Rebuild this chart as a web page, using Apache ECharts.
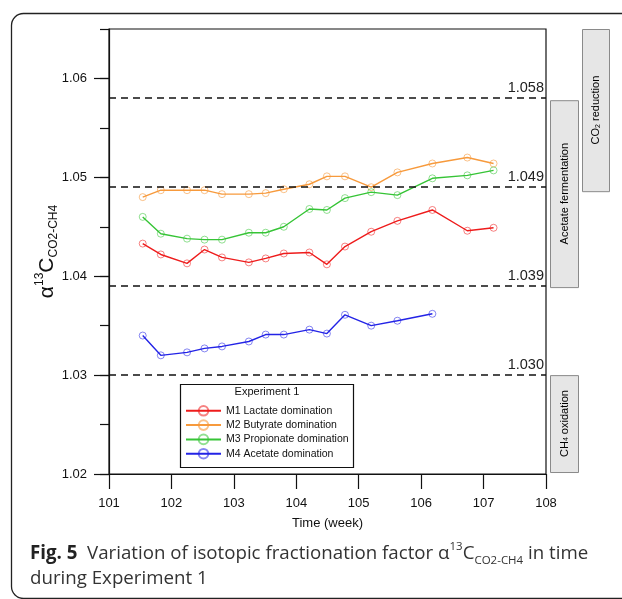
<!DOCTYPE html>
<html>
<head>
<meta charset="utf-8">
<title>Fig. 5</title>
<script src="https://cdn.jsdelivr.net/npm/echarts@6/dist/echarts.min.js"></script>
<style>
  html, body { margin: 0; padding: 0; background: #fff; }
  #main { width: 622px; height: 599px; }
</style>
</head>
<body>
<div id="main"></div>
<script type="text/javascript">
// sampling times (week)
var weeks = [101.54, 101.83, 102.25, 102.53, 102.81, 103.24, 103.51, 103.80,
             104.21, 104.49, 104.78, 105.20, 105.62, 106.18, 106.74, 107.16];

// alpha 13C CO2-CH4
var m1Lactate = [1.0433, 1.0422, 1.0413, 1.0427, 1.0419, 1.0414, 1.0418, 1.0423,
                 1.0424, 1.0412, 1.0430, 1.0445, 1.0456, 1.0467, 1.0446, 1.0449];
var m2Butyrate = [1.0480, 1.0487, 1.0487, 1.0487, 1.0483, 1.0483, 1.0484, 1.0488,
                  1.0493, 1.0501, 1.0501, 1.0490, 1.0505, 1.0514, 1.0520, 1.0514];
var m3Propionate = [1.0460, 1.0443, 1.0438, 1.0437, 1.0437, 1.0444, 1.0444, 1.0450,
                    1.0468, 1.0467, 1.0479, 1.0485, 1.0482, 1.0499, 1.0502, 1.0507];
var m4Acetate = [1.0340, 1.0320, 1.0323, 1.0327, 1.0329, 1.0334, 1.0341, 1.0341,
                 1.0346, 1.0342, 1.0361, 1.0350, 1.0355, 1.0362];

var seriesNames = ['M1 Lactate domination', 'M2 Butyrate domination',
                   'M3 Propionate domination', 'M4 Acetate domination'];

// dashed reference levels
var thresholds = [1.058, 1.049, 1.039, 1.030];

// pathway ranges drawn as grey boxes on the right
var zoneNames = ['CO2 reduction', 'Acetate fermentation', 'CH4 oxidation'];
var zoneLow = [1.0486, 1.0389, 1.0202];
var zoneHigh = [1.0650, 1.0578, 1.0300];

var yTicks = [1.02, 1.03, 1.04, 1.05, 1.06];
var xMin = 101, xMax = 108;

var lineColors = ['#ee1c1c', '#f79a3c', '#36c436', '#2323e6'];
var markColors = ['rgba(238,28,28,0.55)', 'rgba(247,154,60,0.6)', 'rgba(54,196,54,0.55)', 'rgba(35,35,230,0.55)'];
var FONT = '"Liberation Sans", Arial, sans-serif';

function pairs(vals) {
    var out = [];
    for (var i = 0; i < vals.length; i++) out.push([weeks[i], vals[i]]);
    return out;
}

var myChart = echarts.init(document.getElementById('main'));
var allData = [m1Lactate, m2Butyrate, m3Propionate, m4Acetate];

var series = [];
for (var k = 0; k < allData.length; k++) {
    series.push({
        name: seriesNames[k],
        type: 'line',
        data: pairs(allData[k]),
        symbol: 'circle',
        symbolSize: 7,
        lineStyle: { color: lineColors[k], width: 1.4 },
        itemStyle: { color: 'rgba(255,255,255,0)', borderColor: markColors[k], borderWidth: 1 },
        z: 3
    });
}
series[0].markLine = {
    silent: true,
    symbol: 'none',
    precision: 3,
    lineStyle: { color: '#111', type: [7, 5], width: 1.5 },
    label: {
        position: 'insideEndTop',
        distance: [2, 3],
        color: '#222',
        fontFamily: FONT,
        fontSize: 14.5,
        formatter: function (p) { return Number(p.value).toFixed(3); }
    },
    data: thresholds.map(function (v) { return { yAxis: v }; })
};

var option = {
    animation: false,
    backgroundColor: '#fff',
    grid: {
        left: 109, right: 76, top: 29, bottom: 125,
        show: true, borderColor: '#111', borderWidth: 1.2
    },
    legend: {
        orient: 'vertical',
        left: 185, top: 405,
        padding: 0,
        itemWidth: 35, itemHeight: 12, itemGap: 2.7,
        textStyle: { fontFamily: FONT, fontSize: 10.5, color: '#111' },
        data: seriesNames
    },
    xAxis: {
        type: 'value',
        min: xMin, max: xMax, interval: 1,
        splitLine: { show: false },
        axisLine: { lineStyle: { color: '#111', width: 1.2 } },
        axisTick: { length: 15, lineStyle: { color: '#111', width: 1.2 } },
        axisLabel: { margin: 23, color: '#111', fontFamily: FONT, fontSize: 13 },
        name: 'Time (week)',
        nameLocation: 'middle',
        nameGap: 43,
        nameMoveOverlap: false,
        nameTextStyle: { color: '#111', fontFamily: FONT, fontSize: 13 }
    },
    yAxis: [{
        type: 'value',
        min: 1.02, max: 1.065, interval: 0.005,
        splitLine: { show: false },
        axisLine: { lineStyle: { color: '#111', width: 1.2 } },
        axisTick: { length: 9, lineStyle: { color: '#111', width: 1.2 } },
        axisLabel: {
            margin: 22, color: '#111', fontFamily: FONT, fontSize: 13,
            formatter: function (v) {
                return Math.round(v * 1000) % 10 === 0 ? v.toFixed(2) : '';
            }
        },
        name: '{a|α}{sup|13}{a|C}{sub|CO2-CH4}',
        nameLocation: 'middle',
        nameGap: 49,
        nameMoveOverlap: false,
        nameTextStyle: {
            color: '#111',
            rich: {
                a: { fontFamily: FONT, fontSize: 21, color: '#111', lineHeight: 26 },
                sup: { fontFamily: FONT, fontSize: 12, color: '#111', verticalAlign: 'top', lineHeight: 26 },
                sub: { fontFamily: FONT, fontSize: 12, color: '#111', verticalAlign: 'bottom', lineHeight: 26 }
            }
        }
    }, {
        type: 'value',
        position: 'left',
        min: 1.02, max: 1.065, interval: 0.005,
        splitLine: { show: false },
        axisLine: { show: false },
        axisLabel: { show: false },
        axisTick: { length: 15, customValues: yTicks, lineStyle: { color: '#111', width: 1.2 } }
    }],
    series: series
};
myChart.setOption(option);

// grey boxes, placed through the y scale
var graphics = [];
var boxCols = [[582, 27], [550, 28], [550, 28]];
var zoneRich = {
    n: { fontFamily: FONT, fontSize: 11, color: '#222' },
    s: { fontFamily: FONT, fontSize: 7, color: '#222', verticalAlign: 'bottom', padding: [4, 0, 0, 0] }
};
var zoneText = ['{n|CO}{s|2}{n| reduction}', '{n|Acetate fermentation}', '{n|CH}{s|4}{n| oxidation}'];
for (var z = 0; z < zoneNames.length; z++) {
    var yTop = myChart.convertToPixel({ yAxisIndex: 0 }, zoneHigh[z]);
    var yBot = myChart.convertToPixel({ yAxisIndex: 0 }, zoneLow[z]);
    graphics.push({
        type: 'rect',
        shape: { x: boxCols[z][0] + 0.5, y: yTop + 0.5, width: boxCols[z][1], height: yBot - yTop },
        style: { fill: '#e6e6e6', stroke: '#8a8a8a', lineWidth: 1 },
        z: 1
    });
    graphics.push({
        type: 'text',
        x: boxCols[z][0] + boxCols[z][1] / 2 + 0.5,
        y: (yTop + yBot) / 2,
        rotation: Math.PI / 2,
        style: { text: zoneText[z], rich: zoneRich, align: 'center', verticalAlign: 'middle' },
        z: 2
    });
}
// legend frame and title
graphics.push({
    type: 'rect',
    shape: { x: 180.5, y: 384.5, width: 173, height: 83 },
    style: { fill: '#fff', stroke: '#111', lineWidth: 1.2 },
    z: 0
});
graphics.push({
    type: 'text', x: 267, y: 392,
    style: { text: 'Experiment 1', fontFamily: FONT, fontSize: 11, fill: '#111', align: 'center', verticalAlign: 'middle' },
    z: 2
});
// outer frame
graphics.push({
    type: 'rect',
    shape: { x: 11.5, y: 13.5, width: 700, height: 585, r: 12 },
    style: { fill: 'none', stroke: '#222', lineWidth: 1.3 },
    z: 0
});
// caption
var CAP = '"Open Sans", "Noto Sans", sans-serif';
graphics.push({
    type: 'text', x: 30, y: 554,
    style: {
        text: '{b|Fig. 5}{t|  Variation of isotopic fractionation factor α}{sup|13}{t|C}{sub|CO2-CH4}{t| in time}',
        verticalAlign: 'middle',
        rich: {
            b: { fontFamily: CAP, fontSize: 18.7, fontWeight: 'bold', fill: '#222', lineHeight: 26 },
            t: { fontFamily: CAP, fontSize: 18.7, fill: '#333', lineHeight: 26 },
            sup: { fontFamily: CAP, fontSize: 11.5, fill: '#333', verticalAlign: 'top', lineHeight: 26 },
            sub: { fontFamily: CAP, fontSize: 11.5, fill: '#333', verticalAlign: 'bottom', lineHeight: 26 }
        }
    }
});
graphics.push({
    type: 'text', x: 30, y: 579,
    style: { text: 'during Experiment 1', fontFamily: CAP, fontSize: 18.7, fill: '#333', verticalAlign: 'middle' }
});
myChart.setOption({ graphic: graphics });
</script>
</body>
</html>
